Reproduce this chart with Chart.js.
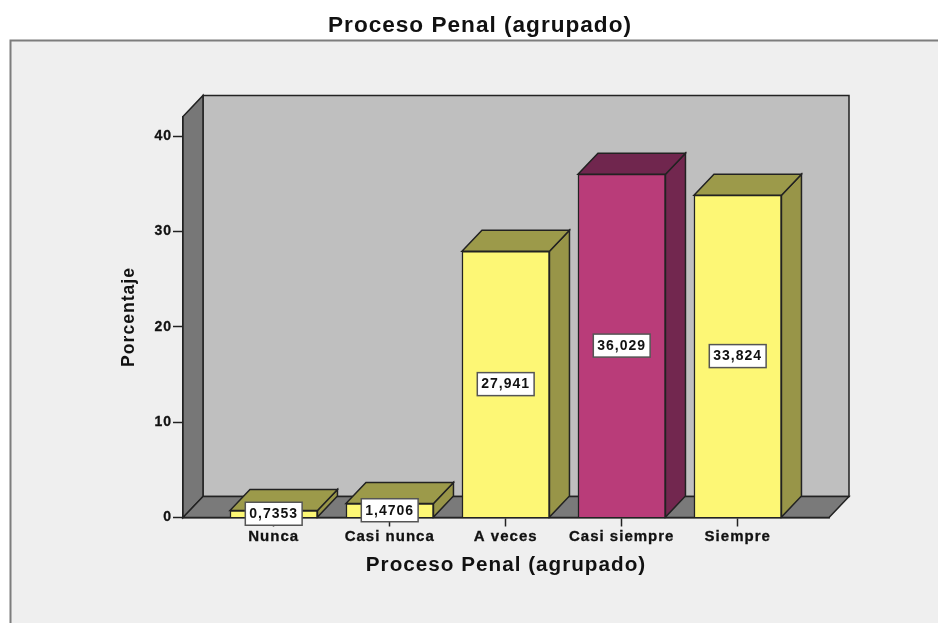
<!DOCTYPE html>
<html>
<head>
<meta charset="utf-8">
<style>
  html, body { margin: 0; padding: 0; background: #fff; }
  #wrap { width: 938px; height: 623px; position: relative; }
</style>
<script src="https://cdn.jsdelivr.net/npm/chart.js@4/dist/chart.umd.min.js"></script>
</head>
<body>
<div id="wrap"><canvas id="grafico"></canvas></div>
<script>
const categories = ['Nunca', 'Casi nunca', 'A veces', 'Casi siempre', 'Siempre'];
const percentages = [0.7353, 1.4706, 27.941, 36.029, 33.824];
const yTicks = [0, 10, 20, 30, 40];

const FONT = '"Liberation Sans", Arial, sans-serif';
const DEPTH_X = 20;
const DEPTH_Y = 21;
const LINE = '#222';

function isMagenta(i) {
  return categories[i] === 'Casi siempre';
}

function quad(ctx, pts, fill) {
  ctx.beginPath();
  ctx.moveTo(pts[0][0], pts[0][1]);
  pts.slice(1).forEach(p => ctx.lineTo(p[0], p[1]));
  ctx.closePath();
  ctx.fillStyle = fill;
  ctx.fill();
  ctx.lineWidth = 1.5;
  ctx.strokeStyle = LINE;
  ctx.stroke();
}

const frame3d = {
  id: 'frame3d',
  beforeDraw(chart) {
    const ctx = chart.ctx;
    ctx.letterSpacing = '1px';
    ctx.save();
    ctx.fillStyle = '#fff';
    ctx.fillRect(0, 0, chart.width, chart.height);
    ctx.fillStyle = '#efefef';
    ctx.fillRect(10.5, 40.5, chart.width, chart.height);
    ctx.strokeStyle = '#7d7d7d';
    ctx.lineWidth = 2;
    ctx.beginPath();
    ctx.moveTo(10.5, chart.height);
    ctx.lineTo(10.5, 40.5);
    ctx.lineTo(chart.width, 40.5);
    ctx.stroke();
    ctx.restore();
  },
  beforeDatasetsDraw(chart) {
    const ctx = chart.ctx;
    const {left, right, top, bottom} = chart.chartArea;
    ctx.save();
    // back wall, side wall, floor
    quad(ctx, [[left + DEPTH_X, top - DEPTH_Y], [right + DEPTH_X, top - DEPTH_Y], [right + DEPTH_X, bottom - DEPTH_Y], [left + DEPTH_X, bottom - DEPTH_Y]], '#bfbfbf');
    quad(ctx, [[left, top], [left + DEPTH_X, top - DEPTH_Y], [left + DEPTH_X, bottom - DEPTH_Y], [left, bottom]], '#777777');
    quad(ctx, [[left, bottom], [left + DEPTH_X, bottom - DEPTH_Y], [right + DEPTH_X, bottom - DEPTH_Y], [right, bottom]], '#7a7a7a');

    // top and side faces of every bar
    chart.getDatasetMeta(0).data.forEach((bar, i) => {
      const x0 = bar.x - bar.width / 2;
      const x1 = bar.x + bar.width / 2;
      const topFill = isMagenta(i) ? '#70264e' : '#9c9a4a';
      const sideFill = isMagenta(i) ? '#72274f' : '#989548';
      quad(ctx, [[x1, bar.y], [x1 + DEPTH_X, bar.y - DEPTH_Y], [x1 + DEPTH_X, bar.base - DEPTH_Y], [x1, bar.base]], sideFill);
      quad(ctx, [[x0, bar.y], [x0 + DEPTH_X, bar.y - DEPTH_Y], [x1 + DEPTH_X, bar.y - DEPTH_Y], [x1, bar.y]], topFill);
    });
    ctx.restore();
  },
  afterDatasetsDraw(chart) {
    const ctx = chart.ctx;
    ctx.save();
    ctx.font = 'bold 14px ' + FONT;
    ctx.textAlign = 'center';
    ctx.textBaseline = 'middle';
    chart.getDatasetMeta(0).data.forEach((bar, i) => {
      const text = String(percentages[i]).replace('.', ',');
      const w = ctx.measureText(text).width + 8;
      const h = 23;
      const cy = (bar.y + bar.base) / 2;
      ctx.fillStyle = '#fff';
      ctx.fillRect(bar.x - w / 2, cy - h / 2, w, h);
      ctx.strokeStyle = '#555';
      ctx.lineWidth = 1.5;
      ctx.strokeRect(bar.x - w / 2, cy - h / 2, w, h);
      ctx.fillStyle = '#111';
      ctx.fillText(text, bar.x, cy + 0.5);
    });
    ctx.restore();
  }
};

new Chart(document.getElementById('grafico'), {
  type: 'bar',
  data: {
    datasets: [{
      data: categories.map((c, i) => ({x: i, y: percentages[i]})),
      backgroundColor: categories.map((c, i) => isMagenta(i) ? '#b93c79' : '#fdf775'),
      borderColor: LINE,
      borderWidth: 1.5,
      barThickness: 87.5,
      yAxisID: 'y'
    }]
  },
  plugins: [frame3d],
  options: {
    responsive: true,
    maintainAspectRatio: false,
    animation: false,
    layout: {padding: {left: 22, right: 0, top: 0, bottom: 0}},
    scales: {
      x: {
        type: 'linear',
        offset: false,
        bounds: 'data',
        min: -0.782,
        max: 4.787,
        afterBuildTicks: scale => { scale.ticks = categories.map((c, i) => ({value: i})); },
        afterFit: scale => { scale.height = 105.5; },
        ticks: {
          autoSkip: false,
          maxRotation: 0,
          padding: 1,
          color: '#111',
          textStrokeColor: '#111',
          textStrokeWidth: 0.3,
          font: {family: FONT, weight: 'bold', size: 15},
          callback: value => categories[value]
        },
        grid: {offset: false, drawOnChartArea: false, tickLength: 9, tickColor: LINE, tickWidth: 1.5},
        border: {color: LINE, width: 1.5},
        title: {
          display: true,
          text: 'Proceso Penal (agrupado)',
          color: '#111',
          font: {family: FONT, weight: 'bold', size: 20.7},
          padding: {top: 0, bottom: 45}
        }
      },
      y: {
        min: 0,
        max: 42.09,
        bounds: 'data',
        afterBuildTicks: scale => { scale.ticks = yTicks.map(v => ({value: v})); },
        afterFit: scale => { scale.width = 161; },
        ticks: {
          padding: 1,
          color: '#111',
          textStrokeColor: '#111',
          textStrokeWidth: 0.3,
          font: {family: FONT, weight: 'bold', size: 14}
        },
        grid: {drawOnChartArea: false, tickLength: 10, tickColor: LINE, tickWidth: 1.5},
        border: {color: LINE, width: 1.5},
        title: {
          display: true,
          text: 'Porcentaje',
          color: '#111',
          font: {family: FONT, weight: 'bold', size: 17.6},
          padding: {top: 97, bottom: 0}
        }
      },
      spacer: {
        position: 'right',
        display: true,
        afterFit: scale => { scale.width = 109; },
        ticks: {display: false},
        grid: {display: false},
        border: {display: false}
      }
    },
    plugins: {
      legend: {display: false},
      tooltip: {enabled: false},
      title: {
        display: true,
        text: 'Proceso Penal (agrupado)',
        color: '#111',
        font: {family: FONT, weight: 'bold', size: 22.6},
        padding: {top: 12, bottom: 77.3}
      }
    }
  }
});
</script>
</body>
</html>
